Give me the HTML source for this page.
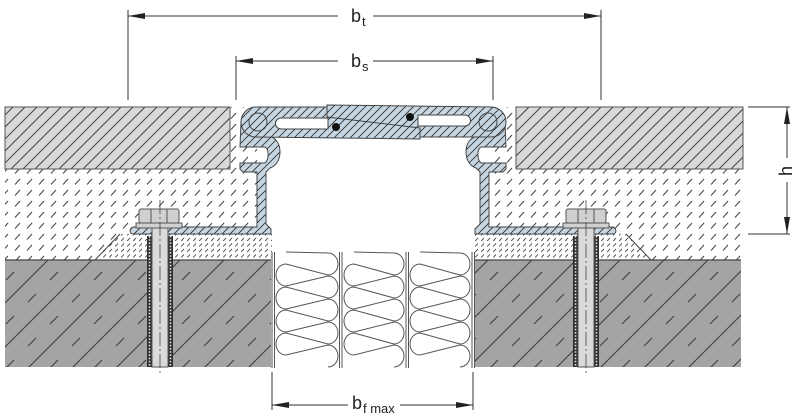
<!DOCTYPE html>
<html><head><meta charset="utf-8"><style>
html,body{margin:0;padding:0;background:#fff;}
svg{display:block;}
text{font-family:"Liberation Sans",Arial,sans-serif;fill:#222;}
</style></head><body>
<svg width="800" height="417" viewBox="0 0 800 417" xmlns="http://www.w3.org/2000/svg">
<defs>
<pattern id="slab" patternUnits="userSpaceOnUse" width="12" height="12">
 <rect width="12" height="12" fill="#d9d9d9"/>
 <path d="M0,12 L12,0 M-2,2 L2,-2 M10,14 L14,10" stroke="#444" stroke-width="1"/>
</pattern>
<pattern id="prof" patternUnits="userSpaceOnUse" width="8" height="8">
 <rect width="8" height="8" fill="#c5d6e2"/>
 <path d="M0,8 L8,0 M-2,2 L2,-2 M6,10 L10,6" stroke="#333" stroke-width="0.9"/>
</pattern>
<pattern id="mort" patternUnits="userSpaceOnUse" width="12" height="11">
 <rect width="12" height="11" fill="#fff"/>
 <path d="M3,8.5 L8,3" stroke="#444" stroke-width="1"/>
</pattern>
<pattern id="bed" patternUnits="userSpaceOnUse" width="6" height="5.5">
 <rect width="6" height="5.5" fill="#fff"/>
 <path d="M1.2,4.4 L4,1.4" stroke="#444" stroke-width="0.85"/>
</pattern>
<pattern id="conc" patternUnits="userSpaceOnUse" width="44" height="44">
 <rect width="44" height="44" fill="#a4a4a4"/>
 <path d="M0,44 L44,0 M-2,2 L2,-2 M42,46 L46,42" stroke="#3a3a3a" stroke-width="1"/>
 <path d="M6,16 L14,8 M28,38 L36,30" stroke="#3a3a3a" stroke-width="1"/>
</pattern>
</defs>

<!-- mortar -->
<rect x="5" y="107" width="252" height="153" fill="url(#mort)"/>
<rect x="489" y="107" width="254" height="153" fill="url(#mort)"/>

<!-- top slabs -->
<rect x="5" y="107" width="225" height="62" fill="url(#slab)" stroke="#555" stroke-width="1"/>
<rect x="516" y="107" width="227" height="62" fill="url(#slab)" stroke="#555" stroke-width="1"/>

<!-- bedding -->
<polygon points="95,260 120,234 272,234 272,260" fill="url(#bed)"/>
<line x1="95" y1="260" x2="120" y2="234" stroke="#444" stroke-width="1"/>
<polygon points="474,234 626,234 651,260 474,260" fill="url(#bed)"/>
<line x1="626" y1="234" x2="651" y2="260" stroke="#444" stroke-width="1"/>

<!-- concrete -->
<rect x="5" y="260" width="266" height="107" fill="url(#conc)"/>
<rect x="475" y="260" width="266" height="107" fill="url(#conc)"/>
<line x1="5" y1="260" x2="271" y2="260" stroke="#444" stroke-width="1.2"/>
<line x1="475" y1="260" x2="741" y2="260" stroke="#444" stroke-width="1.2"/>

<!-- profile frames -->
<path d="M241,122 L252,136 L266,136 C276,136 280,144 280,152 C280,160 276,166 270,168 L266,172 L266,224 L271,229 L271,234 L134,234 C129,234 129,229 133,227 L257,227 L257,172 L243,172 L240,169 L240,163 L264,163 C269,163 270,147 264,147 L240,147 Z" fill="url(#prof)" stroke="#444" stroke-width="1"/>
<path d="M505,122 L494,136 L480,136 C470,136 466,144 466,152 C466,160 470,166 476,168 L480,172 L480,224 L475,229 L475,234 L612,234 C617,234 617,229 613,227 L489,227 L489,172 L503,172 L506,169 L506,163 L482,163 C477,163 476,147 482,147 L506,147 Z" fill="url(#prof)" stroke="#444" stroke-width="1"/>

<!-- cover plates -->
<path d="M256,107 L327,107 L327,105 L491,107 A15,15 0 0 1 491,137 L420,137 L420,139 L256,137 A15,15 0 0 1 256,107 Z" fill="url(#prof)" stroke="#444" stroke-width="1"/>
<path d="M327,105 L327,117 L420,128 L420,139" fill="none" stroke="#444" stroke-width="1"/>
<path d="M281,118 L328,118 L328,129 L281,129 A5.5,5.5 0 0 1 281,118 Z" fill="#fff" stroke="#444" stroke-width="1"/>
<path d="M418,115 L465,115 A5.5,5.5 0 0 1 465,126 L418,126 Z" fill="#fff" stroke="#444" stroke-width="1"/>
<circle cx="336" cy="127" r="4" fill="#111"/>
<circle cx="410" cy="117" r="4" fill="#111"/>
<circle cx="258" cy="122" r="9" fill="none" stroke="#444" stroke-width="1"/>
<circle cx="488" cy="122" r="9" fill="none" stroke="#444" stroke-width="1"/>

<!-- foam -->
<g fill="none" stroke="#555" stroke-width="1">
<line x1="272" y1="252" x2="272" y2="368"/><line x1="274.5" y1="252" x2="274.5" y2="368"/>
<line x1="339.5" y1="252" x2="339.5" y2="368"/><line x1="342" y1="252" x2="342" y2="368"/>
<line x1="406" y1="252" x2="406" y2="368"/><line x1="408.5" y1="252" x2="408.5" y2="368"/>
<line x1="472" y1="252" x2="472" y2="368"/><line x1="474.5" y1="252" x2="474.5" y2="368"/>
<path d="M286,252 L328,253 A10,11 0 0 1 328,275 L286,264 A10,11 0 0 0 286,286 L328,276 A10,11 0 0 1 328,298 L286,287 A10,11 0 0 0 286,309 L328,299 A10,11 0 0 1 328,321 L286,310 A10,11 0 0 0 286,332 L328,322 A10,11 0 0 1 328,344 L286,333 A10,11 0 0 0 286,355 L328,345 A10,11 0 0 1 328,367"/>
<path d="M354,252 L394,253 A10,11 0 0 1 394,275 L354,264 A10,11 0 0 0 354,286 L394,276 A10,11 0 0 1 394,298 L354,287 A10,11 0 0 0 354,309 L394,299 A10,11 0 0 1 394,321 L354,310 A10,11 0 0 0 354,332 L394,322 A10,11 0 0 1 394,344 L354,333 A10,11 0 0 0 354,355 L394,345 A10,11 0 0 1 394,367"/>
<path d="M420,252 L460,253 A10,11 0 0 1 460,275 L420,264 A10,11 0 0 0 420,286 L460,276 A10,11 0 0 1 460,298 L420,287 A10,11 0 0 0 420,309 L460,299 A10,11 0 0 1 460,321 L420,310 A10,11 0 0 0 420,332 L460,322 A10,11 0 0 1 460,344 L420,333 A10,11 0 0 0 420,355 L460,345 A10,11 0 0 1 460,367"/>
</g>

<!-- bolts -->
<g stroke="#555" stroke-width="1">
<rect x="147" y="236" width="5" height="131" fill="#2e2e2e" stroke="none"/>
<rect x="168" y="236" width="5" height="131" fill="#2e2e2e" stroke="none"/>
<line x1="149.5" y1="236" x2="149.5" y2="367" stroke="#e0e0e0" stroke-width="1.6" stroke-dasharray="1.6 1.6"/>
<line x1="170.5" y1="236" x2="170.5" y2="367" stroke="#e0e0e0" stroke-width="1.6" stroke-dasharray="1.6 1.6"/>
<rect x="152" y="228" width="16" height="139" fill="#dadada"/>
<rect x="136" y="223" width="46" height="5" fill="#d0d0d0"/>
<rect x="139" y="209" width="40" height="14" rx="2" fill="#d0d0d0"/>
<line x1="151" y1="209" x2="151" y2="223"/><line x1="167" y1="209" x2="167" y2="223"/>
<line x1="160" y1="200" x2="160" y2="374" stroke="#444" stroke-width="0.8" stroke-dasharray="14 3 2 3"/>

<rect x="573" y="236" width="5" height="131" fill="#2e2e2e" stroke="none"/>
<rect x="594" y="236" width="5" height="131" fill="#2e2e2e" stroke="none"/>
<line x1="575.5" y1="236" x2="575.5" y2="367" stroke="#e0e0e0" stroke-width="1.6" stroke-dasharray="1.6 1.6"/>
<line x1="596.5" y1="236" x2="596.5" y2="367" stroke="#e0e0e0" stroke-width="1.6" stroke-dasharray="1.6 1.6"/>
<rect x="578" y="228" width="16" height="139" fill="#dadada"/>
<rect x="563" y="223" width="46" height="5" fill="#d0d0d0"/>
<rect x="566" y="209" width="40" height="14" rx="2" fill="#d0d0d0"/>
<line x1="578" y1="209" x2="578" y2="223"/><line x1="594" y1="209" x2="594" y2="223"/>
<line x1="586" y1="200" x2="586" y2="374" stroke="#444" stroke-width="0.8" stroke-dasharray="14 3 2 3"/>
</g>

<!-- dimensions -->
<g stroke="#333" stroke-width="1" fill="none">
<line x1="128" y1="10" x2="128" y2="100"/><line x1="601" y1="10" x2="601" y2="100"/>
<line x1="128" y1="16" x2="338" y2="16"/><line x1="373" y1="16" x2="601" y2="16"/>
<line x1="236" y1="56" x2="236" y2="100"/><line x1="493" y1="56" x2="493" y2="100"/>
<line x1="236" y1="61" x2="338" y2="61"/><line x1="373" y1="61" x2="493" y2="61"/>
<line x1="272" y1="372" x2="272" y2="410"/><line x1="473" y1="372" x2="473" y2="410"/>
<line x1="272" y1="405" x2="348" y2="405"/><line x1="400" y1="405" x2="473" y2="405"/>
<line x1="748" y1="107" x2="790" y2="107"/><line x1="748" y1="234" x2="790" y2="234"/>
<line x1="787" y1="107" x2="787" y2="158"/><line x1="787" y1="182" x2="787" y2="234"/>
</g>
<g fill="#222">
<polygon points="128,16 145,13 145,19"/><polygon points="601,16 584,13 584,19"/>
<polygon points="236,61 253,58 253,64"/><polygon points="493,61 476,58 476,64"/>
<polygon points="272,405 289,402 289,408"/><polygon points="473,405 456,402 456,408"/>
<polygon points="787,107 784,124 790,124"/><polygon points="787,234 784,217 790,217"/>
</g>
<text x="351" y="22" font-size="18">b</text><text x="362" y="26" font-size="13">t</text>
<text x="351" y="67" font-size="18">b</text><text x="362" y="71" font-size="13">s</text>
<text x="352" y="409" font-size="18">b</text><text x="363" y="413" font-size="13">f max</text>
<text transform="translate(792,171) rotate(-90)" text-anchor="middle" font-size="18">h</text>
</svg>
</body></html>
